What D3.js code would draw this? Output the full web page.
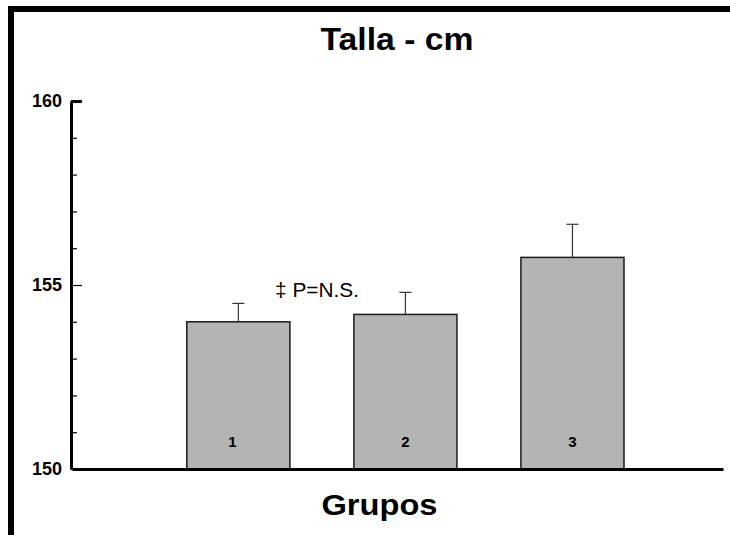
<!DOCTYPE html>
<html>
<head>
<meta charset="utf-8">
<script src="https://cdn.jsdelivr.net/npm/d3@7"></script>
<style>
  body { margin: 0; background: #fff; }
  svg { display: block; font-family: "Liberation Sans", Arial, sans-serif; }
</style>
</head>
<body>
<svg id="chart" width="730" height="535"></svg>
<script>
// data
var groups = ['1', '2', '3'];
var means = [154.0, 154.2, 155.75];
var errors = [0.5, 0.6, 0.9];
var majorTicks = [150, 155, 160];
var minorTicks = [151, 152, 153, 154, 156, 157, 158, 159];
var title = 'Talla - cm';
var xTitle = 'Grupos';
var note = '\u2021 P=N.S.';

var font = '"Liberation Sans", Arial, sans-serif';
var svg = d3.select('#chart');

// frame (top and left edge only, rest is cut off)
svg.append('path')
    .attr('d', 'M11,535 L11,9 L730,9')
    .style('fill', 'none')
    .style('stroke', '#000')
    .style('stroke-width', 6);

var x = d3.scaleBand()
    .domain(groups)
    .range([72, 723])
    .paddingInner(0.383)
    .paddingOuter(0.64)
    .align(0.537);

var y = d3.scaleLinear()
    .domain([150, 160])
    .range([469, 101]);

var data = groups.map(function(g, i) {
    return {group: g, mean: means[i], err: errors[i]};
});

// bars
svg.append('g').selectAll('rect')
    .data(data)
    .enter().append('rect')
    .attr('x', function(d) { return x(d.group); })
    .attr('y', function(d) { return y(d.mean); })
    .attr('width', x.bandwidth())
    .attr('height', function(d) { return y(150) - y(d.mean); })
    .style('fill', '#b4b4b4')
    .style('stroke', '#1a1a1a')
    .style('stroke-width', 1.5);

// error bars (upper only)
var eb = svg.append('g').selectAll('g')
    .data(data)
    .enter().append('g')
    .style('stroke', '#333')
    .style('stroke-width', 1.2);

eb.append('line')
    .attr('x1', function(d) { return x(d.group) + x.bandwidth() / 2; })
    .attr('x2', function(d) { return x(d.group) + x.bandwidth() / 2; })
    .attr('y1', function(d) { return y(d.mean); })
    .attr('y2', function(d) { return y(d.mean + d.err); });

eb.append('line')
    .attr('x1', function(d) { return x(d.group) + x.bandwidth() / 2 - 6; })
    .attr('x2', function(d) { return x(d.group) + x.bandwidth() / 2 + 6; })
    .attr('y1', function(d) { return y(d.mean + d.err); })
    .attr('y2', function(d) { return y(d.mean + d.err); });

// group numbers inside bars
svg.append('g').selectAll('text')
    .data(data)
    .enter().append('text')
    .attr('x', function(d) { return x(d.group) + x.bandwidth() / 2 - (d.group === '1' ? 6 : 0); })
    .attr('y', 447)
    .attr('text-anchor', 'middle')
    .style('font-family', font)
    .style('font-size', '15px')
    .style('font-weight', 'bold')
    .text(function(d) { return d.group; });

// y axis, ticks pointing inwards
var yAxis = svg.append('g')
    .attr('class', 'y-axis')
    .attr('transform', 'translate(71,0)')
    .call(d3.axisLeft(y).tickValues(majorTicks).tickSizeInner(-11).tickSizeOuter(0).tickPadding(9));
yAxis.select('.domain').style('stroke-width', 3);
yAxis.selectAll('.tick line').style('stroke-width', 1.2);
yAxis.selectAll('.tick')
    .filter(function(d) { return d === 160; })
    .select('line').style('stroke-width', 3);
yAxis.selectAll('.tick text')
    .style('font-family', font)
    .style('font-size', '18px')
    .style('font-weight', 'bold')
    .style('fill', '#000');

var yMinor = svg.append('g')
    .attr('transform', 'translate(71,0)')
    .call(d3.axisLeft(y).tickValues(minorTicks).tickSize(-6).tickFormat(''));
yMinor.select('.domain').remove();
yMinor.selectAll('.tick line').style('stroke-width', 1.2);

// x axis, no ticks
var xAxis = svg.append('g')
    .attr('class', 'x-axis')
    .attr('transform', 'translate(0,' + y(150) + ')')
    .call(d3.axisBottom(x).tickSize(0).tickFormat(''));
xAxis.select('.domain').style('stroke-width', 3);

// titles
svg.append('text')
    .attr('x', 397)
    .attr('y', 50)
    .attr('text-anchor', 'middle')
    .attr('textLength', 153)
    .attr('lengthAdjust', 'spacingAndGlyphs')
    .style('font-size', '31px')
    .style('font-weight', 'bold')
    .text(title);

svg.append('text')
    .attr('x', 379.5)
    .attr('y', 515)
    .attr('text-anchor', 'middle')
    .attr('textLength', 116)
    .attr('lengthAdjust', 'spacingAndGlyphs')
    .style('font-size', '29px')
    .style('font-weight', 'bold')
    .text(xTitle);

svg.append('text')
    .attr('x', 275)
    .attr('y', 297)
    .attr('textLength', 84)
    .attr('lengthAdjust', 'spacingAndGlyphs')
    .style('font-size', '20px')
    .text(note);
</script>
</body>
</html>
